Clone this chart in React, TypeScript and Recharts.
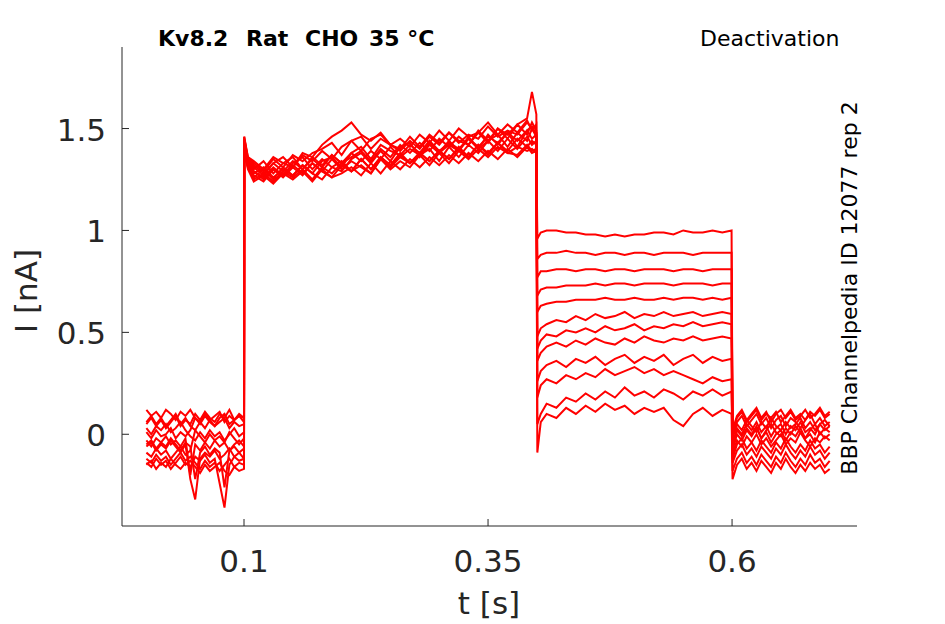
import React from "react";
import { LineChart, Line, XAxis, YAxis } from "recharts";

// time points [s]
const TIME = [
  0, 0.005, 0.01, 0.015, 0.02, 0.025, 0.03, 0.035, 0.04, 0.045, 0.05, 0.055, 0.06, 0.065, 0.07, 0.075, 0.08, 0.085, 0.09, 0.095, 0.1,
  0.1002, 0.104,
  0.11, 0.12, 0.13, 0.14, 0.15, 0.16, 0.17, 0.18, 0.19, 0.2, 0.21, 0.22, 0.23, 0.24, 0.25, 0.26, 0.27, 0.28, 0.29, 0.3, 0.31, 0.32, 0.33, 0.34, 0.35, 0.36, 0.37, 0.38, 0.39, 0.395, 0.3995,
  0.4005, 0.404, 0.41, 0.42, 0.43, 0.44, 0.45, 0.46, 0.47, 0.48, 0.49, 0.5, 0.51, 0.52, 0.53, 0.54, 0.55, 0.56, 0.57, 0.58, 0.59, 0.5995,
  0.6005, 0.605, 0.61, 0.615, 0.62, 0.625, 0.63, 0.635, 0.64, 0.645, 0.65, 0.655, 0.66, 0.665, 0.67, 0.675, 0.68, 0.685, 0.69, 0.695, 0.7,
];

// current traces [nA]
const TRACE_01 = [
  0.12, 0.09, 0.11, 0.08, 0.12, 0.10, 0.07, 0.11, 0.09, 0.12, 0.08, 0.06, 0.10, 0.07, 0.09, 0.11, 0.06, 0.09, 0.07, 0.10, 0.08,
  1.46, 1.34,
  1.30, 1.34, 1.28, 1.33, 1.36, 1.30, 1.35, 1.31, 1.37, 1.33, 1.38, 1.34, 1.39, 1.35, 1.41, 1.36, 1.40, 1.37, 1.43, 1.38, 1.42, 1.39, 1.45, 1.40, 1.44, 1.47, 1.41, 1.48, 1.44, 1.50, 1.46,
  0.96, 0.99, 1.00, 1.00, 0.99, 0.99, 0.98, 0.98, 0.97, 0.98, 0.97, 0.98, 0.98, 0.99, 0.99, 0.98, 1.00, 0.99, 0.99, 1.00, 0.99, 1.00,
  0.0, 0.08, 0.11, 0.06, 0.09, 0.12, 0.07, 0.10, 0.08, 0.11, 0.06, 0.09, 0.12, 0.08, 0.10, 0.07, 0.11, 0.09, 0.12, 0.08, 0.10,
];
const TRACE_02 = [
  0.06, 0.09, 0.05, 0.08, 0.04, 0.07, 0.10, 0.05, 0.08, 0.04, 0.02, 0.06, 0.03, 0.07, 0.04, 0.06, 0.08, 0.03, 0.06, 0.04, 0.05,
  1.42, 1.32,
  1.27, 1.24, 1.30, 1.26, 1.31, 1.27, 1.33, 1.29, 1.26, 1.32, 1.29, 1.35, 1.30, 1.36, 1.32, 1.38, 1.33, 1.37, 1.40, 1.34, 1.41, 1.36, 1.42, 1.38, 1.44, 1.39, 1.45, 1.40, 1.46, 1.42, 1.44,
  0.86, 0.88, 0.89, 0.89, 0.90, 0.89, 0.89, 0.88, 0.89, 0.89, 0.88, 0.89, 0.89, 0.88, 0.89, 0.89, 0.89, 0.88, 0.89, 0.89, 0.89, 0.89,
  -0.02, 0.05, 0.02, 0.07, 0.04, 0.01, 0.06, 0.03, 0.08, 0.04, 0.02, 0.06, 0.03, 0.05, 0.08, 0.03, 0.06, 0.02, 0.05, 0.07, 0.04,
];
const TRACE_03 = [
  0.03, 0.00, 0.04, 0.02, 0.05, 0.01, 0.03, 0.06, 0.02, -0.01, -0.03, 0.01, -0.02, 0.02, -0.01, 0.01, -0.03, 0.00, 0.03, -0.01, 0.01,
  1.45, 1.36,
  1.34, 1.30, 1.36, 1.33, 1.31, 1.37, 1.34, 1.39, 1.35, 1.41, 1.44, 1.39, 1.45, 1.47, 1.42, 1.40, 1.46, 1.41, 1.47, 1.43, 1.48, 1.44, 1.42, 1.49, 1.44, 1.50, 1.45, 1.52, 1.47, 1.53, 1.49,
  0.77, 0.80, 0.80, 0.81, 0.81, 0.80, 0.81, 0.81, 0.80, 0.81, 0.81, 0.80, 0.81, 0.81, 0.81, 0.80, 0.81, 0.81, 0.80, 0.81, 0.81, 0.81,
  -0.06, 0.02, -0.01, 0.03, 0.00, 0.04, -0.02, 0.02, 0.05, 0.01, -0.01, 0.03, 0.00, 0.04, 0.01, -0.02, 0.02, 0.05, 0.00, 0.03, 0.01,
];
const TRACE_04 = [
  0.01, -0.02, 0.02, -0.01, 0.00, 0.03, -0.02, 0.01, -0.01, 0.02, 0.08, 0.05, 0.09, 0.06, 0.04, 0.08, 0.10, 0.05, 0.07, 0.09, 0.06,
  1.40, 1.31,
  1.25, 1.28, 1.24, 1.29, 1.26, 1.30, 1.25, 1.31, 1.28, 1.33, 1.29, 1.32, 1.28, 1.35, 1.30, 1.34, 1.31, 1.37, 1.32, 1.38, 1.33, 1.39, 1.35, 1.40, 1.36, 1.41, 1.38, 1.37, 1.42, 1.39, 1.40,
  0.68, 0.71, 0.72, 0.72, 0.73, 0.73, 0.73, 0.74, 0.73, 0.74, 0.74, 0.73, 0.74, 0.74, 0.74, 0.73, 0.74, 0.74, 0.74, 0.73, 0.74, 0.74,
  0.02, 0.09, 0.12, 0.07, 0.10, 0.13, 0.08, 0.11, 0.06, 0.10, 0.12, 0.08, 0.11, 0.07, 0.09, 0.12, 0.08, 0.10, 0.13, 0.09, 0.11,
];
const TRACE_05 = [
  -0.03, -0.06, -0.02, -0.04, -0.01, -0.05, -0.03, -0.06, -0.02, -0.20, -0.05, -0.08, -0.04, -0.07, -0.03, -0.06, -0.04, -0.08, -0.05, -0.03, -0.06,
  1.44, 1.35,
  1.32, 1.28, 1.33, 1.36, 1.31, 1.38, 1.36, 1.42, 1.46, 1.49, 1.53, 1.47, 1.44, 1.48, 1.42, 1.45, 1.41, 1.47, 1.43, 1.49, 1.44, 1.50, 1.46, 1.48, 1.53, 1.47, 1.52, 1.48, 1.54, 1.49, 1.52,
  0.60, 0.63, 0.64, 0.65, 0.65, 0.66, 0.66, 0.66, 0.67, 0.66, 0.66, 0.67, 0.66, 0.66, 0.67, 0.66, 0.67, 0.67, 0.66, 0.67, 0.66, 0.67,
  -0.08, 0.00, -0.03, 0.02, -0.01, 0.03, -0.02, 0.01, -0.04, 0.00, 0.02, -0.03, 0.01, -0.01, 0.03, -0.02, 0.00, -0.04, 0.01, -0.02, 0.00,
];
const TRACE_06 = [
  -0.06, -0.04, -0.08, -0.05, -0.07, -0.03, -0.06, -0.09, -0.05, -0.22, -0.32, -0.12, -0.09, -0.11, -0.08, -0.12, -0.10, -0.07, -0.11, -0.09, -0.12,
  1.43, 1.33,
  1.29, 1.26, 1.31, 1.27, 1.33, 1.36, 1.30, 1.35, 1.31, 1.29, 1.35, 1.38, 1.33, 1.39, 1.34, 1.41, 1.43, 1.36, 1.42, 1.38, 1.44, 1.39, 1.46, 1.40, 1.47, 1.42, 1.48, 1.41, 1.49, 1.45, 1.47,
  0.48, 0.52, 0.54, 0.56, 0.55, 0.58, 0.56, 0.59, 0.57, 0.58, 0.60, 0.57, 0.59, 0.58, 0.60, 0.58, 0.59, 0.60, 0.58, 0.59, 0.60, 0.59,
  -0.10, -0.03, -0.06, -0.01, -0.04, 0.00, -0.05, -0.02, -0.06, -0.03, 0.00, -0.05, -0.02, -0.04, 0.01, -0.03, -0.06, -0.02, -0.04, -0.01, -0.03,
];
const TRACE_07 = [
  -0.09, -0.11, -0.07, -0.10, -0.08, -0.12, -0.09, -0.06, -0.10, -0.08, 0.02, -0.01, -0.04, 0.00, -0.03, -0.01, -0.04, 0.01, -0.02, -0.05, -0.02,
  1.39, 1.30,
  1.24, 1.27, 1.23, 1.28, 1.25, 1.29, 1.24, 1.30, 1.26, 1.28, 1.31, 1.27, 1.33, 1.28, 1.34, 1.30, 1.35, 1.31, 1.36, 1.32, 1.37, 1.33, 1.38, 1.34, 1.39, 1.35, 1.40, 1.36, 1.41, 1.38, 1.39,
  0.42, 0.46, 0.49, 0.48, 0.51, 0.50, 0.52, 0.50, 0.53, 0.51, 0.52, 0.54, 0.51, 0.53, 0.52, 0.54, 0.53, 0.55, 0.53, 0.54, 0.55, 0.54,
  0.00, 0.06, 0.09, 0.04, 0.07, 0.10, 0.05, 0.08, 0.03, 0.07, 0.09, 0.04, 0.08, 0.06, 0.03, 0.07, 0.10, 0.05, 0.08, 0.04, 0.06,
];
const TRACE_08 = [
  -0.12, -0.14, -0.10, -0.13, -0.11, -0.15, -0.12, -0.09, -0.13, -0.11, -0.14, -0.17, -0.13, -0.16, -0.14, -0.18, -0.15, -0.12, -0.16, -0.14, -0.15,
  1.46, 1.36,
  1.33, 1.29, 1.35, 1.31, 1.37, 1.34, 1.38, 1.40, 1.43, 1.37, 1.44, 1.46, 1.40, 1.45, 1.42, 1.39, 1.44, 1.40, 1.46, 1.42, 1.48, 1.43, 1.47, 1.45, 1.51, 1.46, 1.49, 1.47, 1.53, 1.50, 1.48,
  0.36, 0.40, 0.43, 0.45, 0.43, 0.46, 0.44, 0.47, 0.45, 0.44, 0.47, 0.45, 0.48, 0.46, 0.45, 0.47, 0.46, 0.48, 0.46, 0.47, 0.48, 0.47,
  -0.14, -0.08, -0.05, -0.10, -0.07, -0.11, -0.06, -0.09, -0.12, -0.07, -0.10, -0.05, -0.09, -0.12, -0.08, -0.11, -0.06, -0.10, -0.08, -0.12, -0.09,
];
const TRACE_09 = [
  -0.15, -0.13, -0.17, -0.14, -0.16, -0.12, -0.15, -0.17, -0.14, -0.16, -0.11, -0.13, -0.10, -0.14, -0.12, -0.24, -0.36, -0.15, -0.11, -0.13, -0.12,
  1.41, 1.32,
  1.29, 1.25, 1.30, 1.27, 1.32, 1.28, 1.33, 1.29, 1.35, 1.30, 1.34, 1.31, 1.28, 1.35, 1.31, 1.36, 1.33, 1.38, 1.34, 1.39, 1.35, 1.41, 1.36, 1.42, 1.38, 1.43, 1.39, 1.45, 1.41, 1.44, 1.42,
  0.26, 0.31, 0.34, 0.36, 0.33, 0.37, 0.35, 0.38, 0.34, 0.37, 0.39, 0.35, 0.38, 0.36, 0.39, 0.34, 0.37, 0.39, 0.35, 0.38, 0.36, 0.37,
  -0.18, -0.12, -0.09, -0.14, -0.11, -0.15, -0.10, -0.13, -0.16, -0.11, -0.14, -0.09, -0.13, -0.16, -0.12, -0.15, -0.10, -0.14, -0.12, -0.16, -0.13,
];
const TRACE_10 = [
  0.05, 0.08, 0.04, 0.07, 0.03, 0.06, 0.09, 0.04, 0.07, 0.05, 0.10, 0.07, 0.11, 0.08, 0.06, 0.10, 0.08, 0.12, 0.07, 0.09, 0.08,
  1.44, 1.34,
  1.31, 1.27, 1.33, 1.29, 1.34, 1.30, 1.36, 1.32, 1.37, 1.33, 1.36, 1.39, 1.34, 1.40, 1.36, 1.42, 1.38, 1.43, 1.39, 1.45, 1.41, 1.46, 1.42, 1.48, 1.43, 1.50, 1.47, 1.52, 1.55, 1.68, 1.57,
  0.18, 0.24, 0.27, 0.25, 0.29, 0.27, 0.30, 0.28, 0.32, 0.29, 0.31, 0.33, 0.30, 0.32, 0.29, 0.31, 0.29, 0.27, 0.25, 0.28, 0.26, 0.27,
  -0.05, 0.03, 0.00, 0.05, 0.02, 0.06, 0.01, 0.04, -0.01, 0.03, 0.05, 0.00, 0.04, 0.02, 0.06, 0.01, 0.03, 0.00, 0.05, 0.02, 0.04,
];
const TRACE_11 = [
  -0.05, -0.03, -0.07, -0.04, -0.06, -0.02, -0.05, -0.08, -0.04, -0.06, -0.22, -0.09, -0.06, -0.10, -0.07, -0.09, -0.26, -0.08, -0.06, -0.09, -0.07,
  1.42, 1.32,
  1.26, 1.30, 1.25, 1.31, 1.27, 1.32, 1.28, 1.34, 1.36, 1.31, 1.38, 1.41, 1.35, 1.42, 1.39, 1.37, 1.42, 1.38, 1.44, 1.39, 1.43, 1.40, 1.45, 1.41, 1.46, 1.43, 1.48, 1.44, 1.49, 1.51, 1.47,
  0.05, 0.10, 0.15, 0.13, 0.18, 0.16, 0.20, 0.17, 0.21, 0.18, 0.23, 0.19, 0.21, 0.18, 0.22, 0.20, 0.17, 0.21, 0.19, 0.22, 0.19, 0.21,
  -0.12, -0.05, -0.02, -0.07, -0.04, -0.08, -0.03, -0.06, -0.09, -0.04, -0.07, -0.02, -0.06, -0.09, -0.05, -0.08, -0.03, -0.07, -0.05, -0.09, -0.06,
];
const TRACE_12 = [
  -0.14, -0.16, -0.12, -0.15, -0.13, -0.17, -0.14, -0.11, -0.15, -0.13, -0.16, -0.19, -0.15, -0.18, -0.16, -0.14, -0.18, -0.20, -0.16, -0.18, -0.17,
  1.40, 1.31,
  1.28, 1.31, 1.26, 1.30, 1.27, 1.32, 1.28, 1.25, 1.31, 1.34, 1.29, 1.35, 1.30, 1.36, 1.32, 1.37, 1.33, 1.38, 1.34, 1.39, 1.35, 1.40, 1.36, 1.42, 1.37, 1.43, 1.38, 1.41, 1.39, 1.40, 1.38,
  -0.09, 0.06, 0.10, 0.08, 0.13, 0.10, 0.14, 0.11, 0.15, 0.12, 0.14, 0.10, 0.13, 0.11, 0.13, 0.07, 0.04, 0.10, 0.13, 0.09, 0.12, 0.10,
  -0.22, -0.15, -0.12, -0.17, -0.14, -0.18, -0.13, -0.16, -0.19, -0.14, -0.17, -0.12, -0.16, -0.19, -0.15, -0.18, -0.14, -0.17, -0.15, -0.19, -0.17,
];

const TRACES = [
  TRACE_01, TRACE_02, TRACE_03, TRACE_04, TRACE_05, TRACE_06,
  TRACE_07, TRACE_08, TRACE_09, TRACE_10, TRACE_11, TRACE_12,
];

const X_TICKS = [0.1, 0.35, 0.6];
const Y_TICKS = [0, 0.5, 1, 1.5];
const X_DOMAIN = [-0.025, 0.728];
const Y_DOMAIN = [-0.45, 1.9];

const TITLE_WORDS = ["Kv8.2", "Rat", "CHO", "35 °C"];
const TITLE_X = [158, 246, 305, 369];

const ROWS = TIME.map((t, i) => {
  const row: Record<string, number> = { t };
  TRACES.forEach((tr, k) => {
    row["s" + k] = tr[i];
  });
  return row;
});

const AXIS = "#262626";
const FONT = "DejaVu Sans";

const XTick = (props: any) => {
  const { x, y, payload } = props;
  return (
    <g>
      <line x1={x} y1={y} x2={x} y2={y - 7} stroke={AXIS} strokeWidth={1} />
      <text x={x} y={y + 46} textAnchor="middle" fontSize={31} fill={AXIS} fontFamily={FONT}>
        {String(payload.value)}
      </text>
    </g>
  );
};

const YTick = (props: any) => {
  const { x, y, payload } = props;
  return (
    <g>
      <line x1={x} y1={y} x2={x + 7} y2={y} stroke={AXIS} strokeWidth={1} />
      <text x={x - 16} y={y + 12} textAnchor="end" fontSize={31} fill={AXIS} fontFamily={FONT}>
        {String(payload.value)}
      </text>
    </g>
  );
};

export default function App() {
  return (
    <div style={{ position: "absolute", left: 0, top: 0, width: 945, height: 624, background: "#fff" }}>
      <LineChart width={945} height={624} data={ROWS} margin={{ top: 47, right: 88, bottom: 0, left: 0 }}>
        <XAxis
          dataKey="t"
          type="number"
          domain={X_DOMAIN}
          ticks={X_TICKS}
          allowDataOverflow
          height={98}
          tickSize={0}
          tickMargin={0}
          interval={0}
          axisLine={{ stroke: AXIS, strokeWidth: 1 }}
          tickLine={false}
          tick={<XTick />}
        />
        <YAxis
          type="number"
          domain={Y_DOMAIN}
          ticks={Y_TICKS}
          allowDataOverflow
          width={122}
          tickSize={0}
          tickMargin={0}
          interval={0}
          axisLine={{ stroke: AXIS, strokeWidth: 1 }}
          tickLine={false}
          tick={<YTick />}
        />
        {TRACES.map((_, k) => (
          <Line
            key={k}
            dataKey={"s" + k}
            type="linear"
            stroke="#ff0000"
            strokeWidth={2}
            dot={false}
            activeDot={false}
            isAnimationActive={false}
          />
        ))}
      </LineChart>
      <svg
        width={945}
        height={624}
        style={{ position: "absolute", left: 0, top: 0, pointerEvents: "none" }}
      >
        <text fontFamily={FONT} fontWeight="bold" fontSize={22} fill="#000" y={46}>
          {TITLE_WORDS.map((w, i) => (
            <tspan key={i} x={TITLE_X[i]}>
              {w}
            </tspan>
          ))}
        </text>
        <text x={700} y={46} fontFamily={FONT} fontSize={22} fill="#000">
          Deactivation
        </text>
        <text
          transform="translate(857,288) rotate(-90)"
          textAnchor="middle"
          fontFamily={FONT}
          fontSize={22}
          fill="#000"
        >
          BBP Channelpedia ID 12077 rep 2
        </text>
        <text
          transform="translate(37,291) rotate(-90)"
          textAnchor="middle"
          fontFamily={FONT}
          fontSize={31}
          fill={AXIS}
        >
          I [nA]
        </text>
        <text x={489} y={614} textAnchor="middle" fontFamily={FONT} fontSize={31} fill={AXIS}>
          t [s]
        </text>
      </svg>
    </div>
  );
}
